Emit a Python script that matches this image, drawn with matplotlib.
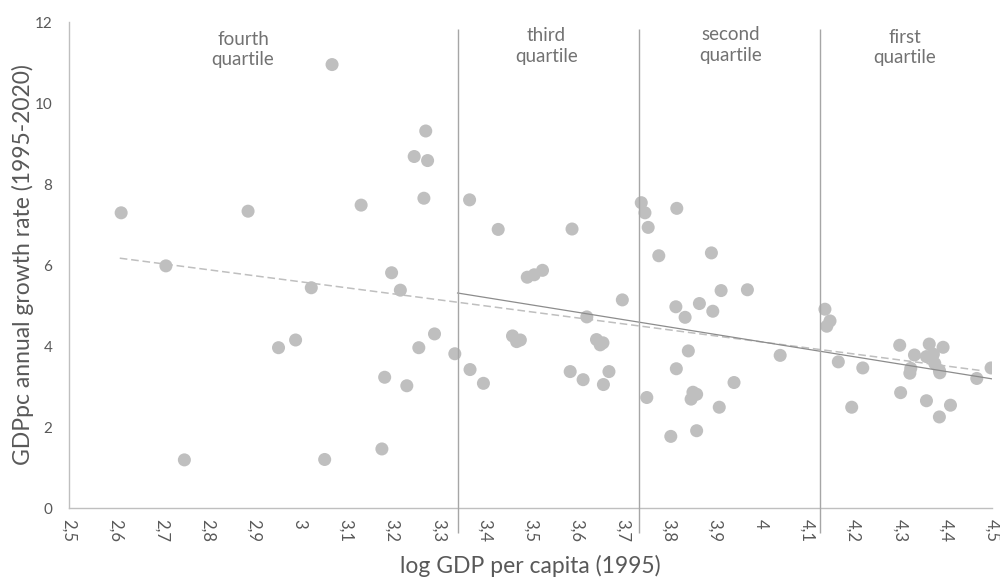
import matplotlib.pyplot as plt
import numpy as np

# log GDP per capita (1995) vs GDPpc annual growth rate (1995-2020), by quartile
fourth_x = [2.613, 2.710, 2.750, 2.888, 2.954, 2.991, 3.025, 3.054, 3.070, 3.133, 3.178,
            3.184, 3.199, 3.218, 3.232, 3.248, 3.258, 3.269, 3.273, 3.277, 3.292, 3.336]
fourth_y = [7.29, 5.98, 1.19, 7.33, 3.96, 4.15, 5.44, 1.20, 10.95, 7.48, 1.46,
            3.23, 5.81, 5.38, 3.02, 8.68, 3.96, 7.65, 9.31, 8.58, 4.30, 3.81]

third_x = [3.368, 3.369, 3.398, 3.430, 3.461, 3.470, 3.478, 3.493, 3.508, 3.526,
           3.586, 3.590, 3.614, 3.622, 3.643, 3.651, 3.657, 3.658, 3.670, 3.699]
third_y = [7.61, 3.42, 3.08, 6.88, 4.25, 4.11, 4.15, 5.70, 5.76, 5.87,
           3.37, 6.89, 3.17, 4.72, 4.16, 4.03, 4.08, 3.05, 3.37, 5.14]

second_x = [3.740, 3.748, 3.752, 3.755, 3.778, 3.804, 3.815, 3.816, 3.817, 3.835, 3.842, 3.848,
            3.852, 3.860, 3.860, 3.866, 3.892, 3.895, 3.909, 3.913, 3.941, 3.970, 4.041]
second_y = [7.54, 7.29, 2.73, 6.93, 6.23, 1.77, 4.97, 3.44, 7.40, 4.71, 3.88, 2.69,
            2.86, 2.81, 1.91, 5.05, 6.30, 4.86, 2.49, 5.37, 3.10, 5.39, 3.77]

first_x = [4.138, 4.149, 4.142, 4.167, 4.220, 4.196, 4.300, 4.332, 4.364, 4.394, 4.358, 4.373,
           4.376, 4.386, 4.324, 4.322, 4.387, 4.467, 4.498, 4.302, 4.358, 4.410, 4.386]
first_y = [4.91, 4.62, 4.49, 3.61, 3.46, 2.49, 4.02, 3.78, 4.05, 3.97, 3.74, 3.80,
           3.57, 3.40, 3.45, 3.33, 3.34, 3.20, 3.46, 2.85, 2.65, 2.54, 2.25]

# trend lines (all countries dashed, top three quartiles solid)
trend_all_x = [2.61, 4.48]
trend_all_y = [6.17, 3.39]
trend_top_x = [3.342, 4.503]
trend_top_y = [5.31, 3.185]

quartile_bounds = [3.342, 3.735, 4.127]
quartile_names = ["fourth\nquartile", "third\nquartile", "second\nquartile", "first\nquartile"]
quartile_text_x = [2.877, 3.534, 3.934, 4.311]
quartile_text_y = [11.32, 11.41, 11.43, 11.37]

x_ticks = np.arange(25, 46) / 10
x_tick_labels = ["2,5", "2,6", "2,7", "2,8", "2,9", "3", "3,1", "3,2", "3,3", "3,4", "3,5",
                 "3,6", "3,7", "3,8", "3,9", "4", "4,1", "4,2", "4,3", "4,4", "4,5"]
y_ticks = [0, 2, 4, 6, 8, 10, 12]

plt.rcParams['font.family'] = ['Lato', 'DejaVu Sans']
text_col = '#595959'

fig = plt.figure(figsize=(10, 5.8), dpi=100)
ax = fig.add_axes([0.069, 0.124, 0.923, 0.838])

for xs, ys in [(fourth_x, fourth_y), (third_x, third_y), (second_x, second_y), (first_x, first_y)]:
    ax.scatter(xs, ys, s=88, color='#bfbfbf', edgecolors='none', zorder=3)

ax.plot(trend_all_x, trend_all_y, color='#bfbfbf', lw=1.1, dashes=(5, 2.5), zorder=2)
ax.plot(trend_top_x, trend_top_y, color='#8c8c8c', lw=0.9, zorder=4)

ax.vlines(quartile_bounds, -0.62, 11.82, color='#a6a6a6', lw=1.0, zorder=4, clip_on=False)

for name, tx, ty in zip(quartile_names, quartile_text_x, quartile_text_y):
    ax.text(tx, ty, name, ha='center', va='center', fontsize=13.5, color='#727272',
            linespacing=1.25)

ax.set_xlim(2.5, 4.5)
ax.set_ylim(0, 12)
ax.set_xticks(x_ticks)
ax.set_xticklabels(x_tick_labels, rotation=-90)
ax.set_yticks(y_ticks)
ax.tick_params(axis='x', length=0, pad=8, labelsize=12, labelcolor=text_col)
ax.tick_params(axis='y', length=0, pad=12, labelsize=11, labelcolor=text_col)

for side in ['top', 'right']:
    ax.spines[side].set_visible(False)
for side in ['left', 'bottom']:
    ax.spines[side].set_color('#bfbfbf')
    ax.spines[side].set_linewidth(1.0)

fig.text(0.530, 0.024, "log GDP per capita (1995)", ha='center', va='center',
         fontsize=16.5, color=text_col)
fig.text(0.023, 0.543, "GDPpc annual growth rate (1995-2020)", ha='center', va='center',
         rotation=90, fontsize=16.5, color=text_col)

fig.savefig('out.png', dpi=100)
